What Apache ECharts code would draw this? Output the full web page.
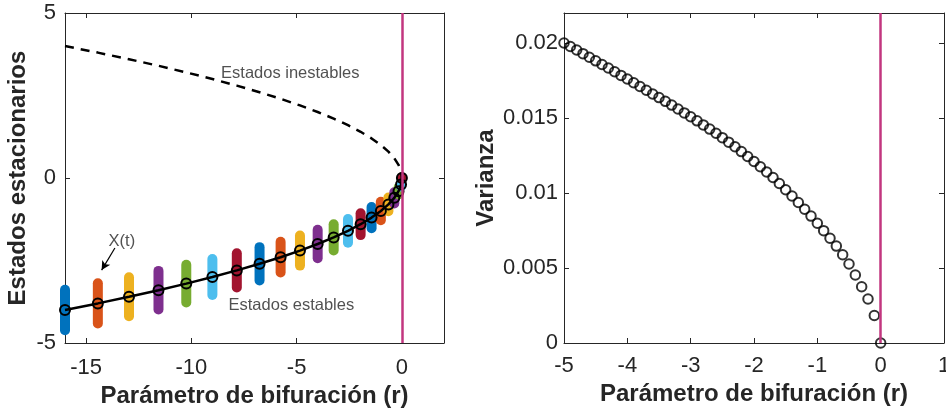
<!DOCTYPE html>
<html>
<head>
<meta charset="utf-8">
<script src="https://cdn.jsdelivr.net/npm/echarts@6/dist/echarts.min.js"></script>
<style>
  html, body { margin: 0; padding: 0; background: #ffffff; }
  #chart { width: 946px; height: 409px; }
</style>
</head>
<body>
<div id="chart"></div>
<script>
// Stable branch: bifurcation parameter r and steady state X*
const rStable = [-16, -14.44, -12.96, -11.56, -10.24, -9, -7.84, -6.76, -5.76, -4.84, -4,
                 -3.24, -2.56, -1.96, -1.44, -1, -0.64, -0.36, -0.16, -0.04, 0];
const xStable = [-4, -3.8, -3.6, -3.4, -3.2, -3, -2.8, -2.6, -2.4, -2.2, -2,
                 -1.8, -1.6, -1.4, -1.2, -1, -0.8, -0.6, -0.4, -0.2, 0];
// Unstable branch on the same r grid
const xUnstable = [4, 3.8, 3.6, 3.4, 3.2, 3, 2.8, 2.6, 2.4, 2.2, 2,
                   1.8, 1.6, 1.4, 1.2, 1, 0.8, 0.6, 0.4, 0.2, 0];
// Half range of the simulated X(t) around each stable state
const xSpread = [0.61, 0.61, 0.59, 0.585, 0.57, 0.545, 0.52, 0.505, 0.465, 0.455, 0.43,
                 0.395, 0.36, 0.33, 0.32, 0.28, 0.21, 0.17, 0.1, 0.06, 0.02];

// Variance of X(t) versus r
const rVar = [-5, -4.9, -4.8, -4.7, -4.6, -4.5, -4.4, -4.3, -4.2, -4.1,
              -4, -3.9, -3.8, -3.7, -3.6, -3.5, -3.4, -3.3, -3.2, -3.1,
              -3, -2.9, -2.8, -2.7, -2.6, -2.5, -2.4, -2.3, -2.2, -2.1,
              -2, -1.9, -1.8, -1.7, -1.6, -1.5, -1.4, -1.3, -1.2, -1.1,
              -1, -0.9, -0.8, -0.7, -0.6, -0.5, -0.4, -0.3, -0.2, -0.1, 0];
const varianza = [0.0200, 0.01977, 0.01953, 0.01929, 0.01905, 0.01881, 0.01857, 0.01833, 0.01808, 0.01784,
                  0.01760, 0.01735, 0.01710, 0.01685, 0.01660, 0.01636, 0.01611, 0.01586, 0.01560, 0.01534,
                  0.01508, 0.01481, 0.01454, 0.01426, 0.01398, 0.01369, 0.01339, 0.01308, 0.01276, 0.01243,
                  0.01210, 0.01175, 0.01140, 0.01103, 0.01063, 0.01022, 0.00980, 0.00937, 0.00892, 0.00846,
                  0.00798, 0.00749, 0.00698, 0.00646, 0.00588, 0.00527, 0.00453, 0.00375, 0.00293, 0.00183, 0];

// Tick labels
const leftXTicks = [-15, -10, -5, 0];
const leftYTicks = [-5, 0, 5];
const rightXTicks = [-5, -4, -3, -2, -1, 0, 1];
const rightYTicks = [0, 0.005, 0.01, 0.015, 0.02];

// Text annotations (data coordinates)
const noteText = ['Estados inestables', 'Estados estables', 'X(t)'];
const noteR = [-5.3, -5.25, -13.3];
const noteX = [3.18, -3.86, -1.93];
const arrowFrom = [-13.63, -2.12];
const arrowTo = [-14.26, -2.79];

const barColors = ['#0072BD', '#D95319', '#EDB120', '#7E2F8E', '#77AC30', '#4DBEEE', '#A2142F'];
const ink = '#262626';
const critColor = '#C2367F';
const font = 'Liberation Sans, Arial, Helvetica, sans-serif';

const tickFont = { fontSize: 22, color: ink, fontFamily: font };
const titleFont = { fontSize: 24, fontWeight: 'bold', color: ink, fontFamily: font };

function boxAxis(grid, pos, min, max, ticks, labelMargin, extra) {
  return Object.assign({
    type: 'value', gridIndex: grid, position: pos, min: min, max: max,
    axisLine: { show: true, onZero: false, lineStyle: { color: ink, width: 1 } },
    axisTick: { show: true, inside: true, length: 5, customValues: ticks, lineStyle: { color: ink, width: 1 } },
    axisLabel: labelMargin != null
      ? Object.assign({ show: true, customValues: ticks, margin: labelMargin }, tickFont)
      : { show: false },
    splitLine: { show: false }
  }, extra || {});
}

const chart = echarts.init(document.getElementById('chart'), null, { renderer: 'canvas' });

const barData = rStable.map((r, i) => [r, xStable[i] - xSpread[i], xStable[i] + xSpread[i]]);
const stableData = rStable.map((r, i) => [r, xStable[i]]);
const unstableData = rStable.map((r, i) => [r, xUnstable[i]]);
const varData = rVar.map((r, i) => [r, varianza[i]]);
const noteData = noteText.map((t, i) => ({ value: [noteR[i], noteX[i]], label: { formatter: t } }));

const xTitle = 'Parámetro de bifuración (r)';

chart.setOption({
  animation: false,
  backgroundColor: '#ffffff',
  textStyle: { fontFamily: font },
  grid: [
    { left: 65, top: 13, width: 379, height: 330, outerBoundsMode: 'none', containLabel: false },
    { left: 564, top: 13, width: 380, height: 330, outerBoundsMode: 'none', containLabel: false }
  ],
  xAxis: [
    boxAxis(0, 'bottom', -16, 2, leftXTicks, 14, {
      name: xTitle, nameLocation: 'middle', nameGap: 38, nameTextStyle: titleFont
    }),
    boxAxis(0, 'top', -16, 2, leftXTicks, null),
    boxAxis(1, 'bottom', -5, 1, rightXTicks, 12, {
      interval: 1,
      name: xTitle, nameLocation: 'middle', nameGap: 38, nameTextStyle: titleFont
    }),
    boxAxis(1, 'top', -5, 1, rightXTicks, null, { interval: 1 })
  ],
  yAxis: [
    boxAxis(0, 'left', -5, 5, leftYTicks, 9, {
      interval: 5,
      name: 'Estados estacionarios', nameLocation: 'middle', nameGap: 35, nameTextStyle: titleFont
    }),
    boxAxis(0, 'right', -5, 5, leftYTicks, null, { interval: 5 }),
    boxAxis(1, 'left', 0, 0.022, rightYTicks, 6, {
      name: 'Varianza', nameLocation: 'middle', nameGap: 66, nameTextStyle: titleFont
    }),
    boxAxis(1, 'right', 0, 0.022, rightYTicks, null)
  ],
  series: [
    // Simulated X(t) ranges, one thick bar per r value
    {
      type: 'custom', xAxisIndex: 0, yAxisIndex: 0, z: 2,
      data: barData,
      encode: { x: 0, y: [1, 2] },
      renderItem: function (params, api) {
        const p1 = api.coord([api.value(0), api.value(1)]);
        const p2 = api.coord([api.value(0), api.value(2)]);
        return {
          type: 'line',
          shape: { x1: p1[0], y1: p1[1], x2: p2[0], y2: p2[1] },
          style: { stroke: barColors[params.dataIndex % barColors.length], lineWidth: 10, lineCap: 'round' }
        };
      },
      markLine: {
        silent: true, symbol: ['none', 'none'], label: { show: false },
        lineStyle: { color: critColor, width: 2.5, type: 'solid' },
        data: [{ xAxis: 0 }]
      }
    },
    // Unstable branch
    {
      type: 'line', xAxisIndex: 0, yAxisIndex: 0, z: 3,
      data: unstableData, showSymbol: false, symbol: 'none', smooth: false,
      lineStyle: { color: '#000000', width: 2.5, type: [9, 7] }
    },
    // Stable branch
    {
      type: 'line', xAxisIndex: 0, yAxisIndex: 0, z: 4,
      data: stableData, symbol: 'circle', symbolSize: 10, showAllSymbol: true,
      lineStyle: { color: '#000000', width: 2.5 },
      itemStyle: { color: 'rgba(0,0,0,0)', borderColor: '#000000', borderWidth: 2 }
    },
    // Annotations and arrow
    {
      type: 'scatter', xAxisIndex: 0, yAxisIndex: 0, z: 5,
      data: noteData, symbolSize: 0, silent: true,
      label: { show: true, position: 'inside', fontSize: 16.5, color: ink, fontFamily: font },
      markLine: {
        silent: true, symbol: ['none', 'arrow'], symbolSize: [7, 9], label: { show: false },
        lineStyle: { color: '#000000', width: 1.2, type: 'solid' },
        data: [[{ coord: arrowFrom }, { coord: arrowTo }]]
      }
    },
    // Critical line in the variance panel
    {
      type: 'line', xAxisIndex: 2, yAxisIndex: 2, z: 2, data: [],
      markLine: {
        silent: true, symbol: ['none', 'none'], label: { show: false },
        lineStyle: { color: critColor, width: 2.5, type: 'solid' },
        data: [{ xAxis: 0 }]
      }
    },
    // Variance
    {
      type: 'scatter', xAxisIndex: 2, yAxisIndex: 2, z: 4,
      data: varData, symbol: 'circle', symbolSize: 9.5,
      itemStyle: { color: 'rgba(0,0,0,0)', borderColor: '#000000', borderWidth: 2 }
    }
  ]
});
</script>
</body>
</html>
